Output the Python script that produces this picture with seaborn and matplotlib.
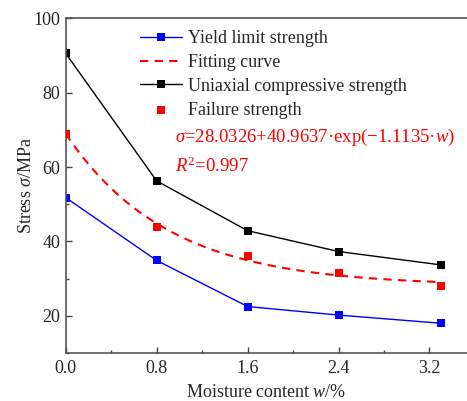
import numpy as np
import pandas as pd
import matplotlib
matplotlib.use("Agg")
import matplotlib.pyplot as plt
import seaborn as sns
from matplotlib.ticker import MultipleLocator

# data
moisture = [0.0, 0.8, 1.6, 2.4, 3.3]
yield_limit = [51.8, 34.9, 22.5, 20.2, 18.0]
ucs = [90.6, 56.3, 42.9, 37.3, 33.7]
failure = [69.0, 44.0, 36.0, 31.6, 28.1]

# fitting curve coefficients printed on the chart
fit_a, fit_b, fit_c = 28.0326, 40.9637, 1.1135
fit_r2 = 0.997

sns.set_style("ticks")
plt.rcParams["font.family"] = ["Liberation Serif", "DejaVu Serif"]
plt.rcParams["mathtext.fontset"] = "custom"
plt.rcParams["mathtext.rm"] = "Liberation Serif"
plt.rcParams["mathtext.it"] = "Liberation Serif:italic"

df = pd.DataFrame({"w": moisture, "yield": yield_limit, "ucs": ucs, "fail": failure})
w_fit = np.linspace(0, max(moisture), 200)
fit_df = pd.DataFrame({"w": w_fit, "s": fit_a + fit_b * np.exp(-fit_c * w_fit)})

fig = plt.figure(figsize=(4.67, 4.01), dpi=100)
ax = fig.add_axes([0.1407, 0.1197, 0.8593, 0.8343])

sns.lineplot(data=df, x="w", y="yield", ax=ax, color="#0000ff", lw=1.0,
             marker="s", markersize=5.5, markeredgewidth=0, label="Yield limit strength")
sns.lineplot(data=fit_df, x="w", y="s", ax=ax, color="#ff0000", lw=1.5,
             label="Fitting curve")
ax.lines[-1].set_dashes([4, 3])
sns.lineplot(data=df, x="w", y="ucs", ax=ax, color="black", lw=1.0,
             marker="s", markersize=5.5, markeredgewidth=0, label="Uniaxial compressive strength")
sns.scatterplot(data=df, x="w", y="fail", ax=ax, color="#ff0000", marker="s",
                s=36, linewidth=0, label="Failure strength", zorder=3)

ax.set_xlim(0, 3.53)
ax.set_ylim(10, 100)
ax.xaxis.set_major_locator(MultipleLocator(0.8))
ax.xaxis.set_minor_locator(MultipleLocator(0.4))
ax.yaxis.set_major_locator(MultipleLocator(20))
ax.yaxis.set_minor_locator(MultipleLocator(10))
ax.xaxis.set_major_formatter(matplotlib.ticker.FormatStrFormatter("%.1f"))
ax.tick_params(which="both", direction="in", labelsize=13, color="#444444", top=False, right=False)
ax.tick_params(which="major", length=4, width=1, pad=4)
ax.tick_params(axis="x", which="major", pad=5)
ax.tick_params(which="minor", length=2.5, width=1)
for side in ["left", "bottom", "top"]:
    ax.spines[side].set_color("#555555")
    ax.spines[side].set_linewidth(1.2)
ax.spines["right"].set_visible(False)

ax.set_xlabel(r"Moisture content $w$/%", fontsize=13, labelpad=5)
ax.set_ylabel(r"Stress $\sigma$/MPa", fontsize=13, labelpad=-1)

ax.legend(loc="upper left", bbox_to_anchor=(140 / 467, 1 - 30 / 401),
          bbox_transform=fig.transFigure, frameon=False, fontsize=13,
          borderpad=0, borderaxespad=0, handlelength=2.3, handletextpad=0.35,
          labelspacing=0.38)

ax.text(175 / 467, 1 - 137 / 401,
        r"$\sigma$=%.4f+%.4f·exp(−%.4f·$w$)" % (fit_a, fit_b, fit_c),
        transform=fig.transFigure, color="#ff0000", fontsize=13.5, va="center")
ax.text(175 / 467, 1 - 166 / 401, r"$R^2$=%.3f" % fit_r2,
        transform=fig.transFigure, color="#ff0000", fontsize=13.5, va="center")

fig.savefig("out.png", dpi=100)
